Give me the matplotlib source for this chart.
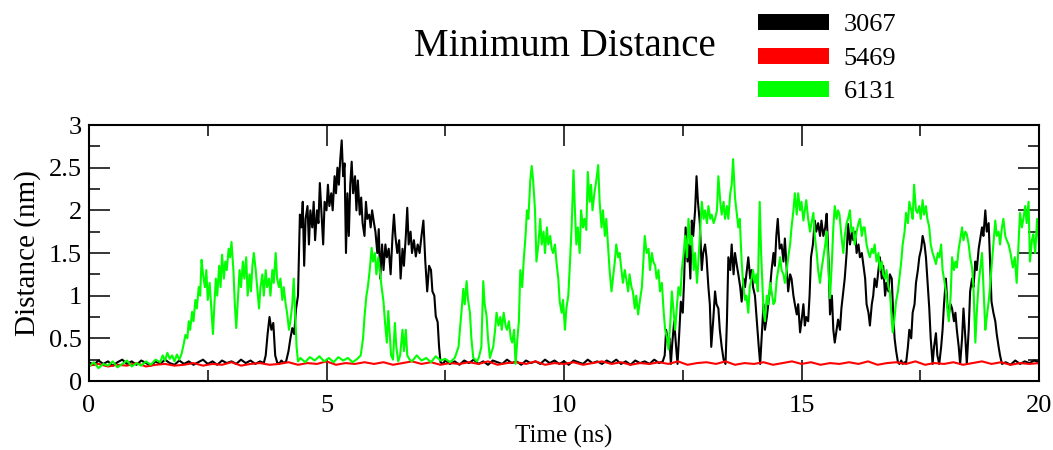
import numpy as np
import matplotlib
matplotlib.use("Agg")
import matplotlib.pyplot as plt
from matplotlib.lines import Line2D

# Minimum distance (nm) vs time (ns)
black = [
    (0.0, .22), (0.1, .19), (0.2, .24), (0.3, .20), (0.4, .23), (0.5, .18), (0.6, .22), (0.7, .25),
    (0.8, .20), (0.9, .23), (1.0, .19), (1.1, .24), (1.2, .21), (1.3, .18), (1.4, .23), (1.5, .20),
    (1.6, .25), (1.7, .21), (1.8, .19), (1.9, .24), (2.0, .20), (2.1, .23), (2.2, .19), (2.3, .22),
    (2.4, .25), (2.5, .20), (2.6, .23), (2.7, .19), (2.8, .24), (2.9, .21), (3.0, .23), (3.1, .20),
    (3.2, .25), (3.3, .21), (3.4, .24), (3.5, .20), (3.6, .23), (3.68, .21),
    (3.72, .30), (3.76, .55), (3.8, .75), (3.84, .60), (3.88, .68), (3.92, .30), (3.96, .22),
    (4.0, .20), (4.05, .24), (4.1, .21), (4.15, .23), (4.2, .35), (4.24, .50), (4.28, .62),
    (4.32, .55), (4.36, .85), (4.4, 1.0), (4.44, 1.95), (4.47, 1.8), (4.5, 2.1), (4.53, 1.35),
    (4.56, 1.9), (4.6, 2.05), (4.63, 1.6), (4.66, 2.0), (4.7, 1.8), (4.73, 2.1), (4.76, 1.65),
    (4.8, 2.0), (4.83, 1.85), (4.86, 2.32), (4.9, 1.9), (4.93, 1.6), (4.96, 2.1), (5.0, 2.0),
    (5.03, 2.3), (5.06, 2.05), (5.1, 2.2), (5.13, 2.0), (5.17, 2.4), (5.2, 2.2), (5.23, 2.5),
    (5.26, 2.3), (5.29, 2.6), (5.32, 2.82), (5.35, 2.4), (5.38, 2.55), (5.41, 1.5), (5.44, 2.2),
    (5.47, 1.7), (5.5, 2.3), (5.53, 2.57), (5.56, 2.2), (5.6, 2.4), (5.63, 2.0), (5.66, 2.35),
    (5.7, 1.95), (5.73, 2.15), (5.76, 1.85), (5.8, 1.7), (5.83, 2.1), (5.86, 1.9), (5.9, 1.95),
    (5.93, 1.8), (5.96, 2.0), (6.0, 1.85), (6.03, 1.75), (6.07, 1.5), (6.1, 1.78), (6.13, 1.2),
    (6.17, 1.6), (6.2, 1.3), (6.24, 1.6), (6.27, 1.45), (6.31, 1.55), (6.35, 1.25), (6.39, 1.7),
    (6.42, 1.95), (6.45, 1.7), (6.49, 1.5), (6.53, 1.65), (6.56, 1.2), (6.6, 1.55), (6.63, 1.35),
    (6.67, 1.7), (6.7, 2.03), (6.73, 1.6), (6.77, 1.75), (6.8, 1.5), (6.84, 1.65), (6.88, 1.46),
    (6.92, 1.6), (6.96, 1.5), (7.0, 1.7), (7.04, 1.88), (7.08, 1.4), (7.12, 1.05), (7.16, 1.35),
    (7.2, 1.3), (7.23, 1.05), (7.27, 1.0), (7.3, .76), (7.34, .69), (7.37, .40), (7.4, .22),
    (7.45, .20), (7.5, .24), (7.6, .20), (7.7, .23), (7.8, .19), (7.9, .24), (8.0, .21), (8.1, .25),
    (8.2, .20), (8.3, .23), (8.4, .19), (8.5, .24), (8.6, .22), (8.7, .20), (8.8, .25), (8.9, .21),
    (9.0, .23), (9.1, .19), (9.2, .24), (9.3, .21), (9.4, .23), (9.5, .20), (9.6, .25), (9.7, .21),
    (9.8, .24), (9.9, .20), (10.0, .23), (10.1, .19), (10.2, .24), (10.3, .22), (10.4, .20),
    (10.5, .25), (10.6, .21), (10.7, .23), (10.8, .20), (10.9, .24), (11.0, .21), (11.1, .25),
    (11.2, .20), (11.3, .23), (11.4, .19), (11.5, .24), (11.6, .21), (11.7, .23), (11.8, .20),
    (11.9, .25), (12.0, .21), (12.08, .23),
    (12.12, .30), (12.15, .60), (12.19, .45), (12.22, .50), (12.25, .20), (12.28, .45), (12.32, .70),
    (12.36, .40), (12.39, .20), (12.43, .60), (12.46, .93), (12.5, .80), (12.53, 1.2), (12.56, 1.8),
    (12.6, 1.4), (12.63, 1.6), (12.66, 1.2), (12.69, 1.88), (12.72, 1.7), (12.76, 2.0), (12.79, 2.4),
    (12.82, 2.1), (12.86, 1.85), (12.9, 1.3), (12.93, 1.5), (12.97, 1.6), (13.0, 1.45), (13.04, 1.1),
    (13.07, .90), (13.1, .40), (13.14, .70), (13.18, 1.05), (13.21, .90), (13.25, .85), (13.28, .60),
    (13.32, .40), (13.36, .25), (13.4, .20), (13.43, .70), (13.46, 1.45), (13.5, 1.3), (13.53, 1.6),
    (13.57, 1.25), (13.6, 1.5), (13.64, 1.35), (13.67, 1.25), (13.71, 1.1), (13.74, .93), (13.78, 1.2),
    (13.81, 1.1), (13.85, 1.3), (13.88, 1.45), (13.92, 1.2), (13.95, 1.3), (13.98, 1.1), (14.02, 1.0),
    (14.06, .70), (14.1, .40), (14.13, .20), (14.16, .50), (14.2, .90), (14.23, .60), (14.27, .75),
    (14.3, .90), (14.34, 1.1), (14.37, 1.3), (14.41, 1.5), (14.44, 1.35), (14.47, 1.7), (14.5, 1.9),
    (14.54, 1.55), (14.58, 1.6), (14.62, 1.4), (14.65, 1.67), (14.69, 1.3), (14.72, 1.05), (14.76, 1.25),
    (14.79, 1.2), (14.83, 1.0), (14.86, .90), (14.9, .78), (14.93, .90), (14.97, .57), (15.0, .70),
    (15.04, .90), (15.07, .65), (15.1, .75), (15.14, .70), (15.17, 1.0), (15.2, 1.45), (15.24, 1.6),
    (15.28, 1.88), (15.31, 1.75), (15.35, 1.85), (15.39, 1.7), (15.42, 1.88), (15.46, 1.7), (15.5, 1.8),
    (15.53, 1.96), (15.57, 1.4), (15.6, .78), (15.64, 1.0), (15.67, .60), (15.7, .45), (15.74, .60),
    (15.77, .72), (15.81, .60), (15.84, .85), (15.88, 1.05), (15.91, 1.2), (15.95, 1.5), (15.98, 1.84),
    (16.02, 1.6), (16.06, 1.75), (16.09, 1.65), (16.13, 1.75), (16.16, 1.5), (16.2, 1.6), (16.23, 1.45),
    (16.27, 1.5), (16.3, 1.37), (16.34, 1.2), (16.37, .90), (16.41, .80), (16.44, .65), (16.48, .90),
    (16.51, 1.0), (16.54, 1.2), (16.58, 1.1), (16.62, 1.3), (16.65, 1.45), (16.69, 1.2), (16.72, 1.35),
    (16.76, 1.0), (16.79, 1.15), (16.83, 1.05), (16.86, 1.25), (16.9, 1.2), (16.93, .80), (16.96, .50),
    (16.99, .36), (17.03, .22), (17.06, .20), (17.1, .24), (17.13, .20), (17.17, .22), (17.2, .20),
    (17.24, .40), (17.27, .60), (17.31, .50), (17.34, .80), (17.38, .90), (17.41, 1.15), (17.45, 1.3),
    (17.48, 1.45), (17.52, 1.55), (17.55, 1.7), (17.59, 1.6), (17.62, 1.45), (17.66, 1.1), (17.69, .85),
    (17.72, .50), (17.76, .20), (17.79, .40), (17.83, .56), (17.86, .30), (17.9, .20), (17.94, .40),
    (17.97, .60), (18.0, .90), (18.04, 1.2), (18.07, .90), (18.1, .78), (18.14, .90), (18.17, .85),
    (18.21, .70), (18.24, .80), (18.27, .60), (18.31, .40), (18.34, .20), (18.38, .50), (18.41, .85),
    (18.45, .50), (18.48, .20), (18.52, .60), (18.55, 1.05), (18.59, 1.2), (18.62, 1.1), (18.66, 1.4),
    (18.69, 1.3), (18.73, 1.55), (18.76, 1.66), (18.8, 1.8), (18.83, 1.7), (18.87, 2.0), (18.9, 1.75),
    (18.94, 1.85), (18.97, 1.4), (19.0, .93), (19.04, .80), (19.08, .70), (19.11, .55), (19.15, .40),
    (19.18, .30), (19.22, .20), (19.3, .22), (19.4, .19), (19.5, .24), (19.6, .20), (19.7, .23),
    (19.8, .21), (19.9, .24), (20.0, .22),
]

red_d = [
    .18, .20, .17, .19, .18, .21, .17, .19, .20, .18,
    .19, .21, .18, .20, .19, .22, .18, .20, .21, .19,
    .20, .22, .19, .21, .20, .23, .19, .21, .20, .22,
    .20, .22, .19, .21, .23, .20, .22, .19, .21, .20,
    .22, .20, .23, .19, .21, .22, .20, .23, .19, .21,
    .20, .22, .19, .21, .23, .20, .22, .19, .21, .20,
    .22, .20, .23, .19, .21, .22, .20, .23, .19, .21,
    .20, .22, .19, .21, .23, .20, .22, .19, .21, .20,
    .22, .20, .23, .19, .21, .22, .20, .23, .19, .21,
    .20, .22, .19, .21, .23, .20, .22, .19, .21, .20, .21,
]
red_t = np.linspace(0, 20, len(red_d))

green = [
    (0.0, .17), (0.1, .22), (0.2, .15), (0.3, .20), (0.4, .18), (0.5, .23), (0.6, .16), (0.7, .20),
    (0.8, .24), (0.9, .17), (1.0, .21), (1.1, .18), (1.2, .23), (1.3, .19), (1.4, .25), (1.5, .22),
    (1.55, .30), (1.6, .24), (1.65, .33), (1.7, .26), (1.75, .30), (1.8, .23), (1.85, .31), (1.9, .25),
    (1.95, .32), (2.0, .45), (2.03, .54), (2.07, .50), (2.1, .70), (2.13, .60), (2.17, .81), (2.2, .70),
    (2.24, .95), (2.27, .85), (2.31, 1.1), (2.34, 1.0), (2.37, 1.42), (2.4, 1.25), (2.44, 1.1),
    (2.47, 1.3), (2.5, .95), (2.54, 1.15), (2.57, .90), (2.61, .55), (2.64, .90), (2.67, 1.2),
    (2.7, 1.0), (2.74, 1.35), (2.77, 1.1), (2.8, 1.48), (2.84, 1.2), (2.87, 1.4), (2.9, 1.3),
    (2.94, 1.55), (2.97, 1.45), (3.0, 1.63), (3.04, 1.3), (3.07, .90), (3.1, .62), (3.14, 1.0),
    (3.17, 1.3), (3.2, 1.1), (3.24, 1.4), (3.27, 1.2), (3.31, 1.45), (3.34, 1.0), (3.38, 1.25),
    (3.41, 1.05), (3.44, 1.35), (3.47, 1.5), (3.51, 1.3), (3.54, 1.1), (3.58, .85), (3.61, 1.1),
    (3.65, 1.25), (3.68, 1.0), (3.72, 1.3), (3.75, 1.1), (3.79, 1.2), (3.82, 1.0), (3.86, 1.3),
    (3.89, 1.15), (3.93, 1.5), (3.96, 1.2), (4.0, 1.1), (4.03, 1.2), (4.07, .95), (4.1, 1.1),
    (4.14, .90), (4.17, .80), (4.21, .60), (4.24, .70), (4.28, .90), (4.31, 1.2), (4.34, .80),
    (4.37, .40), (4.4, .23), (4.45, .27), (4.55, .22), (4.65, .28), (4.75, .24), (4.85, .29),
    (4.95, .23), (5.05, .27), (5.15, .22), (5.25, .28), (5.35, .24), (5.45, .27), (5.55, .22),
    (5.65, .26), (5.72, .30), (5.77, .50), (5.8, .75), (5.84, 1.0), (5.87, 1.1), (5.91, 1.3),
    (5.95, 1.56), (5.98, 1.4), (6.02, 1.5), (6.05, 1.25), (6.09, 1.45), (6.12, 1.3), (6.16, 1.1),
    (6.2, .93), (6.23, .70), (6.27, .45), (6.3, .82), (6.33, .55), (6.36, .30), (6.4, .25),
    (6.44, .68), (6.47, .40), (6.51, .23), (6.55, .30), (6.6, .60), (6.63, .35), (6.67, .60),
    (6.7, .30), (6.75, .25), (6.8, .23), (6.9, .30), (7.0, .24), (7.1, .27), (7.2, .22), (7.3, .29),
    (7.4, .24), (7.5, .26), (7.6, .22), (7.7, .27), (7.78, .40), (7.81, .61), (7.84, .80),
    (7.88, 1.08), (7.91, .90), (7.95, 1.17), (7.98, .95), (8.02, .80), (8.05, .50), (8.09, .27),
    (8.13, .25), (8.17, .23), (8.21, .28), (8.26, .40), (8.3, 1.17), (8.33, .90), (8.37, .76),
    (8.4, .50), (8.44, .27), (8.48, .35), (8.51, .40), (8.55, .60), (8.58, .80), (8.62, .65),
    (8.66, .75), (8.69, .60), (8.73, .80), (8.77, .65), (8.8, .60), (8.84, .70), (8.88, .50),
    (8.91, .45), (8.95, .60), (8.98, .20), (9.02, .50), (9.05, .70), (9.08, 1.3), (9.12, 1.1),
    (9.15, 1.4), (9.19, 1.7), (9.22, 2.0), (9.25, 1.9), (9.29, 2.35), (9.32, 2.52), (9.35, 2.35),
    (9.39, 2.0), (9.42, 1.4), (9.46, 1.6), (9.5, 1.9), (9.53, 1.6), (9.57, 1.75), (9.6, 1.5),
    (9.64, 1.8), (9.67, 1.6), (9.71, 1.7), (9.74, 1.55), (9.77, 1.5), (9.81, 1.6), (9.84, 1.4),
    (9.88, 1.2), (9.91, .93), (9.95, .80), (9.98, .95), (10.02, .60), (10.05, .85), (10.09, 1.0),
    (10.12, 1.32), (10.16, 1.8), (10.2, 2.47), (10.23, 2.0), (10.26, 1.6), (10.29, 1.8), (10.33, 1.5),
    (10.36, 2.0), (10.4, 1.8), (10.43, 1.9), (10.47, 1.77), (10.5, 2.45), (10.54, 2.1), (10.57, 2.3),
    (10.6, 2.0), (10.64, 2.2), (10.68, 2.35), (10.72, 2.53), (10.75, 2.1), (10.79, 1.8), (10.82, 2.0),
    (10.86, 1.7), (10.89, 1.9), (10.93, 1.55), (10.96, 1.3), (11.0, 1.05), (11.03, 1.2), (11.07, 1.4),
    (11.1, 1.6), (11.14, 1.45), (11.17, 1.5), (11.21, 1.3), (11.24, 1.15), (11.28, 1.3), (11.31, 1.2),
    (11.35, 1.05), (11.38, 1.25), (11.42, 1.1), (11.45, 1.05), (11.49, .85), (11.52, 1.0), (11.56, .78),
    (11.6, .95), (11.64, 1.1), (11.67, 1.4), (11.7, 1.7), (11.74, 1.5), (11.78, 1.55), (11.81, 1.3),
    (11.85, 1.5), (11.88, 1.4), (11.92, 1.35), (11.95, 1.2), (11.99, 1.3), (12.02, 1.05), (12.06, 1.15),
    (12.1, .80), (12.13, .60), (12.17, .50), (12.2, .37), (12.24, .70), (12.27, 1.05), (12.31, .80),
    (12.34, .60), (12.38, .90), (12.41, 1.1), (12.45, 1.0), (12.48, 1.3), (12.52, 1.5), (12.55, 1.7),
    (12.59, 1.45), (12.62, 1.9), (12.66, 1.6), (12.69, 1.7), (12.73, 1.3), (12.76, 1.5), (12.8, 1.15),
    (12.83, 1.4), (12.87, 1.8), (12.9, 2.1), (12.94, 1.9), (12.97, 2.0), (13.01, 1.85), (13.04, 2.05),
    (13.08, 1.9), (13.11, 1.95), (13.15, 1.85), (13.18, 1.9), (13.22, 2.0), (13.25, 2.4), (13.29, 2.1),
    (13.32, 1.95), (13.36, 2.1), (13.39, 1.9), (13.43, 2.05), (13.46, 1.9), (13.5, 2.2), (13.53, 2.3),
    (13.56, 2.6), (13.6, 2.15), (13.63, 2.0), (13.67, 1.8), (13.7, 1.9), (13.74, 1.4), (13.77, 1.15),
    (13.81, .95), (13.84, 1.0), (13.88, .80), (13.91, 1.1), (13.95, 1.2), (13.98, 1.3), (14.02, 1.15),
    (14.05, 1.25), (14.08, 1.05), (14.12, 2.1), (14.15, 1.5), (14.2, .82), (14.23, .70), (14.27, 1.0),
    (14.3, .90), (14.34, 1.15), (14.37, 1.05), (14.41, .90), (14.44, .93), (14.48, 1.2), (14.51, 1.3),
    (14.55, 1.45), (14.58, 1.3), (14.62, 1.25), (14.65, 1.15), (14.69, 1.3), (14.72, 1.45), (14.76, 1.6),
    (14.79, 1.8), (14.83, 2.0), (14.86, 2.2), (14.9, 1.95), (14.93, 2.2), (14.97, 2.0), (15.0, 2.1),
    (15.04, 1.88), (15.07, 2.0), (15.1, 2.12), (15.14, 1.9), (15.18, 1.75), (15.21, 1.85), (15.25, 1.97),
    (15.28, 1.7), (15.32, 1.5), (15.35, 1.3), (15.39, 1.15), (15.42, 1.3), (15.46, 1.45), (15.5, 1.6),
    (15.53, 1.75), (15.57, 1.3), (15.6, .97), (15.64, 1.4), (15.67, 1.8), (15.7, 2.05), (15.74, 1.9),
    (15.77, 2.0), (15.8, 1.95), (15.84, 1.7), (15.88, 1.5), (15.91, 1.7), (15.95, 1.85), (15.98, 1.9),
    (16.02, 2.0), (16.05, 1.75), (16.09, 1.8), (16.12, 1.6), (16.16, 1.75), (16.2, 1.85), (16.23, 1.9),
    (16.27, 1.7), (16.3, 1.8), (16.33, 1.8), (16.37, 1.6), (16.41, 1.5), (16.44, 1.45), (16.48, 1.55),
    (16.51, 1.5), (16.54, 1.6), (16.58, 1.4), (16.62, 1.5), (16.65, 1.3), (16.69, 1.4), (16.72, 1.25),
    (16.76, 1.2), (16.79, 1.3), (16.83, 1.1), (16.86, 1.05), (16.89, .80), (16.92, .57), (16.96, .75),
    (16.99, .93), (17.03, 1.05), (17.06, 1.2), (17.1, 1.4), (17.13, 1.6), (17.17, 1.75), (17.2, 1.97),
    (17.24, 1.85), (17.27, 2.1), (17.31, 2.0), (17.34, 1.9), (17.37, 2.3), (17.41, 2.0), (17.44, 1.97),
    (17.48, 2.05), (17.51, 1.9), (17.55, 2.12), (17.58, 1.95), (17.62, 2.05), (17.65, 1.9), (17.69, 1.8),
    (17.72, 1.6), (17.76, 1.5), (17.79, 1.45), (17.83, 1.37), (17.87, 1.5), (17.9, 1.45), (17.94, 1.6),
    (17.97, 1.3), (18.0, 1.2), (18.04, 1.05), (18.07, .85), (18.1, .70), (18.14, 1.0), (18.17, 1.45),
    (18.21, 1.3), (18.24, 1.4), (18.27, 1.33), (18.31, 1.55), (18.34, 1.65), (18.38, 1.8), (18.41, 1.65),
    (18.45, 1.75), (18.48, 1.72), (18.52, 1.6), (18.55, 1.45), (18.59, 1.33), (18.62, 1.1), (18.66, .45),
    (18.69, .80), (18.73, 1.15), (18.76, 1.3), (18.8, 1.5), (18.84, 1.0), (18.87, .60), (18.9, .75),
    (18.94, .93), (18.97, 1.1), (19.0, 1.33), (19.04, 1.6), (19.08, 1.88), (19.11, 1.7), (19.15, 1.75),
    (19.18, 1.6), (19.22, 1.8), (19.25, 1.9), (19.29, 1.7), (19.32, 1.65), (19.36, 1.6), (19.4, 1.5),
    (19.45, 1.33), (19.49, 1.45), (19.53, 1.15), (19.56, 1.5), (19.6, 1.97), (19.64, 1.8), (19.67, 1.9),
    (19.71, 2.05), (19.74, 1.85), (19.78, 2.1), (19.81, 1.4), (19.85, 1.65), (19.88, 1.72), (19.92, 1.5),
    (19.96, 1.9), (20.0, 1.6),
]

labels = ["3067", "5469", "6131"]
colors = ["black", "red", "#00ff00"]

plt.rcParams["font.family"] = "Liberation Serif"

fig = plt.figure(figsize=(10.53, 4.5), dpi=100)
ax = fig.add_axes([89 / 1053, 69 / 450, 950 / 1053, 256 / 450])

bt, bd = np.array(black).T
gt, gd = np.array(green).T
ax.plot(bt, bd, color=colors[0], lw=1.5)
ax.plot(red_t, red_d, color=colors[1], lw=1.5)
ax.plot(gt, gd, color=colors[2], lw=1.5)

ax.set_xlim(0, 20)
ax.set_ylim(0, 3)
ax.set_xticks(np.arange(0, 21, 5))
ax.set_xticks(np.arange(0, 20.1, 2.5), minor=True)
ax.set_yticks([0, 0.5, 1, 1.5, 2, 2.5, 3])
ax.set_yticklabels(["0", "0.5", "1", "1.5", "2", "2.5", "3"])
ax.set_yticks(np.arange(0, 3.01, 0.25), minor=True)
ax.tick_params(which="both", direction="in", top=True, right=True, width=1.1, labelsize=19)
ax.tick_params(which="major", length=15)
ax.tick_params(which="minor", length=8)
ax.tick_params(axis="x", pad=10)
ax.tick_params(axis="y", pad=5)
for s in ax.spines.values():
    s.set_linewidth(1.5)

ax.set_xlabel("Time (ns)", fontsize=18, labelpad=6)
ax.set_ylabel("Distance (nm)", fontsize=21, labelpad=6)

fig.text(565 / 1053, 1 - 46 / 450, "Minimum Distance", fontsize=28, ha="center", va="center")

handles = [Line2D([], [], color=c, lw=11.5, solid_capstyle="butt") for c in colors]
fig.legend(handles, labels, loc="upper left", bbox_to_anchor=(758 / 1053, 1 - 13 / 450),
           frameon=False, fontsize=19, handlelength=2.7, handletextpad=0.55,
           labelspacing=0.38, borderpad=0, borderaxespad=0)

fig.savefig("out.png", dpi=100)
